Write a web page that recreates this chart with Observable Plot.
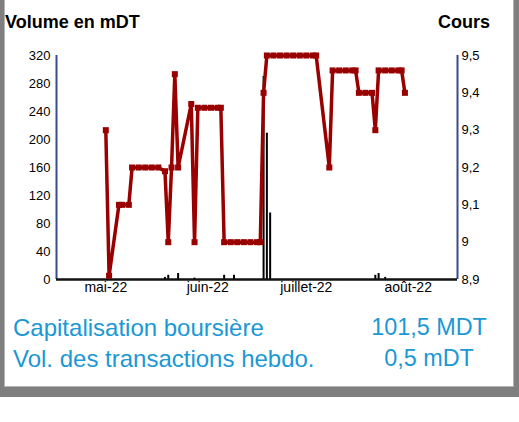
<!DOCTYPE html>
<html>
<head>
<meta charset="utf-8">
<script src="https://cdn.jsdelivr.net/npm/d3@7"></script>
<script src="https://cdn.jsdelivr.net/npm/@observablehq/plot@0.6"></script>
<style>
  html, body { margin: 0; padding: 0; background: white; }
  body { width: 519px; height: 422px; position: relative; overflow: hidden; font-family: "Liberation Sans", Arial, sans-serif; }
  #frame { position: absolute; left: 0; top: 0; width: 519px; height: 397px; box-sizing: border-box;
    border-left: 4px solid #7f7f7f; border-right: 5px solid #7f7f7f; border-bottom: 10px solid #7f7f7f;
    box-shadow: inset 1px 0 #b4b4b4, inset -1px 0 #b4b4b4, inset 0 -1px #b4b4b4; background: white; }
  #chart { position: absolute; left: 0; top: 0; }
  .t { position: absolute; white-space: nowrap; line-height: 1; }
  .title { font-weight: bold; font-size: 18px; color: #000; top: 12.8px; }
  .info { color: #1b98d5; }
  .infoL { font-size: 24px; }
  .infoR { font-size: 23.4px; }
</style>
</head>
<body>
<div id="frame"></div>
<div id="chart"></div>
<div class="t title" style="left:5px;">Volume en mDT</div>
<div class="t title" style="right:29px;">Cours</div>
<div class="t info infoL" style="left:13px; top:315.5px;">Capitalisation boursière</div>
<div class="t info infoL" style="left:13px; top:346.5px;">Vol. des transactions hebdo.</div>
<div class="t info infoR" style="left:429px; top:316px; transform:translateX(-50%);">101,5 MDT</div>
<div class="t info infoR" style="left:429px; top:347px; transform:translateX(-50%);">0,5 mDT</div>
<script>
// ---- data ----
const priceDates = [
  "2022-05-01","2022-05-02","2022-05-05","2022-05-06","2022-05-08",
  "2022-05-09","2022-05-11","2022-05-13","2022-05-15","2022-05-17",
  "2022-05-19","2022-05-20","2022-05-21","2022-05-22","2022-05-23",
  "2022-05-27","2022-05-28","2022-05-29","2022-05-31","2022-06-02","2022-06-04","2022-06-05",
  "2022-06-06","2022-06-08","2022-06-10","2022-06-12","2022-06-14","2022-06-16","2022-06-17",
  "2022-06-18","2022-06-19","2022-06-21","2022-06-23","2022-06-25","2022-06-27","2022-06-29",
  "2022-07-01","2022-07-03","2022-07-04",
  "2022-07-08","2022-07-09","2022-07-11","2022-07-13","2022-07-15","2022-07-16",
  "2022-07-17","2022-07-19","2022-07-21","2022-07-22",
  "2022-07-23","2022-07-25","2022-07-27","2022-07-29","2022-07-30","2022-07-31"
];
const priceValues = [
  9.30, 8.91, 9.10, 9.10, 9.10,
  9.20, 9.20, 9.20, 9.20, 9.20,
  9.19, 9.00, 9.20, 9.45, 9.20,
  9.37, 9.00, 9.36, 9.36, 9.36, 9.36, 9.36,
  9.00, 9.00, 9.00, 9.00, 9.00, 9.00, 9.00,
  9.40, 9.50, 9.50, 9.50, 9.50, 9.50, 9.50,
  9.50, 9.50, 9.50,
  9.20, 9.46, 9.46, 9.46, 9.46, 9.46,
  9.40, 9.40, 9.40, 9.30,
  9.46, 9.46, 9.46, 9.46, 9.46, 9.40
];
const volDates = [
  "2022-05-19","2022-05-20","2022-05-23","2022-05-28",
  "2022-06-06","2022-06-09","2022-06-18","2022-06-19","2022-06-20",
  "2022-07-22","2022-07-23","2022-07-25"
];
const volValues = [3, 6, 8.5, 2, 6, 6, 290, 209, 95, 6, 8.5, 3];

const volTicks = [0, 40, 80, 120, 160, 200, 240, 280, 320];
const priceTicks = [8.9, 9.0, 9.1, 9.2, 9.3, 9.4, 9.5];
const monthTicks = ["2022-05-01","2022-06-01","2022-07-01","2022-08-01"];
const monthLabels = ["mai-22","juin-22","juillet-22","août-22"];
const xDomain = ["2022-04-16","2022-08-16"];

// ---- build ----
const pMin = priceTicks[0], pMax = priceTicks[priceTicks.length - 1];
const vMax = volTicks[volTicks.length - 1];
const toV = p => (p - pMin) / (pMax - pMin) * vMax;
const fromV = v => Math.round((pMin + v / vMax * (pMax - pMin)) * 10) / 10;

const price = priceDates.map((d, i) => ({date: new Date(d), v: toV(priceValues[i])}));
const vol = volDates.map((d, i) => ({date: new Date(d), vol: volValues[i]}));
const mTicks = monthTicks.map(d => new Date(d));
const dom = xDomain.map(d => new Date(d));

const red = "#990000";
const navy = "#3a4a8e";

const chart = Plot.plot({
  width: 519,
  height: 304,
  marginLeft: 56,
  marginRight: 62,
  marginTop: 55,
  marginBottom: 25,
  style: {fontFamily: "Liberation Sans, Arial, sans-serif", fontSize: "13px", color: "black", background: "transparent", overflow: "visible"},
  x: {type: "utc", domain: dom},
  y: {domain: [0, vMax]},
  marks: [
    Plot.ruleX(vol, {x: "date", y1: 0, y2: "vol", stroke: "black", strokeWidth: 2}),
    Plot.ruleX([dom[0]], {stroke: navy, strokeWidth: 2}),
    Plot.ruleX([dom[1]], {stroke: navy, strokeWidth: 2}),
    Plot.ruleY([0], {stroke: "#111", strokeWidth: 2.4}),
    Plot.line(price, {x: "date", y: "v", stroke: red, strokeWidth: 3.5}),
    Plot.dot(price, {x: "date", y: "v", symbol: "square", r: 3.4, fill: red, stroke: "none"}),
    Plot.axisY({anchor: "left", ticks: volTicks, tickSize: 0, tickPadding: 6, label: null, fontSize: 13}),
    Plot.axisY({anchor: "right", ticks: priceTicks.map(toV), tickFormat: v => String(fromV(v)).replace(".", ","), tickSize: 0, tickPadding: 4, label: null, fontSize: 13}),
    Plot.axisX({ticks: mTicks, tickFormat: (d, i) => monthLabels[mTicks.findIndex(m => +m === +d)], tickSize: 0, tickPadding: 3, label: null, fontSize: 14})
  ]
});
document.getElementById("chart").appendChild(chart);
</script>
</body>
</html>
